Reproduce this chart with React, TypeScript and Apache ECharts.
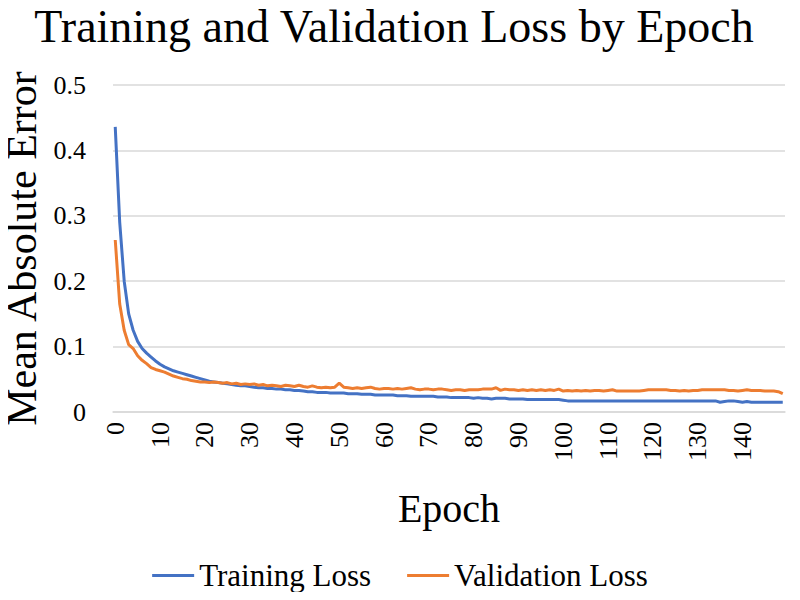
import React, { useEffect, useRef } from "react";
import * as echarts from "echarts";

const titleText = "Training and Validation Loss by Epoch";
const xAxisName = "Epoch";
const yAxisName = "Mean Absolute Error";
const seriesNames = ["Training Loss", "Validation Loss"];

const epochs: string[] = Array.from({ length: 150 }, (_, i) => String(i));

const trainingLoss = [
  0.436, 0.29, 0.2, 0.15, 0.125, 0.108, 0.097, 0.09, 0.084, 0.078,
  0.073, 0.069, 0.066, 0.063, 0.061, 0.059, 0.057, 0.055, 0.053, 0.051,
  0.049, 0.047, 0.046, 0.045, 0.044, 0.043, 0.042, 0.041, 0.04, 0.04,
  0.039, 0.038, 0.037, 0.037, 0.036, 0.036, 0.035, 0.035, 0.034, 0.034,
  0.033, 0.033, 0.032, 0.031, 0.031, 0.03, 0.03, 0.03, 0.029, 0.029,
  0.029, 0.029, 0.028, 0.028, 0.028, 0.027, 0.027, 0.027, 0.026, 0.026,
  0.026, 0.026, 0.026, 0.025, 0.025, 0.025, 0.024, 0.024, 0.024, 0.024,
  0.024, 0.024, 0.023, 0.023, 0.023, 0.022, 0.022, 0.022, 0.022, 0.022,
  0.021, 0.022, 0.021, 0.021, 0.02, 0.021, 0.021, 0.021, 0.02, 0.02,
  0.02, 0.02, 0.019, 0.019, 0.019, 0.019, 0.019, 0.019, 0.019, 0.019,
  0.018, 0.017, 0.017, 0.017, 0.017, 0.017, 0.017, 0.017, 0.017, 0.017,
  0.017, 0.017, 0.017, 0.017, 0.017, 0.017, 0.017, 0.017, 0.017, 0.017,
  0.017, 0.017, 0.017, 0.017, 0.017, 0.017, 0.017, 0.017, 0.017, 0.017,
  0.017, 0.017, 0.017, 0.017, 0.017, 0.015, 0.016, 0.017, 0.017, 0.016,
  0.015, 0.016, 0.015, 0.015, 0.015, 0.015, 0.015, 0.015, 0.015, 0.015,
];

const validationLoss = [
  0.263, 0.165, 0.125, 0.103, 0.097, 0.086, 0.079, 0.074, 0.068, 0.065,
  0.063, 0.061, 0.058, 0.055, 0.053, 0.051, 0.05, 0.048, 0.047, 0.046,
  0.046, 0.045, 0.046, 0.045, 0.044, 0.045, 0.043, 0.044, 0.042, 0.043,
  0.042, 0.043, 0.041, 0.042, 0.04, 0.041, 0.04, 0.039, 0.041, 0.04,
  0.039, 0.041, 0.039, 0.038, 0.04, 0.038, 0.037, 0.038, 0.037, 0.038,
  0.044, 0.038, 0.037, 0.036, 0.037, 0.036, 0.037, 0.038, 0.036, 0.035,
  0.036, 0.036, 0.035, 0.036, 0.035, 0.036, 0.037, 0.035, 0.034, 0.035,
  0.035, 0.034, 0.035, 0.035, 0.034, 0.033, 0.034, 0.034, 0.033, 0.034,
  0.034, 0.034, 0.035, 0.035, 0.035, 0.037, 0.033, 0.035, 0.034, 0.034,
  0.033, 0.034, 0.033, 0.034, 0.033, 0.034, 0.033, 0.034, 0.033, 0.035,
  0.032, 0.033, 0.032, 0.033, 0.032, 0.033, 0.032, 0.033, 0.033, 0.032,
  0.033, 0.034, 0.032, 0.032, 0.032, 0.032, 0.032, 0.032, 0.033, 0.034,
  0.034, 0.034, 0.034, 0.034, 0.033, 0.033, 0.032, 0.033, 0.032, 0.033,
  0.033, 0.034, 0.034, 0.034, 0.034, 0.034, 0.034, 0.033, 0.033, 0.032,
  0.033, 0.034, 0.033, 0.033, 0.033, 0.032, 0.032, 0.032, 0.031, 0.028,
];

const yTicks = { min: 0, max: 0.5, interval: 0.1 };
const colors = ["#4472C4", "#ED7D31"];

const FONT = '"Liberation Serif", "Times New Roman", serif';

export default function App() {
  const ref = useRef<HTMLDivElement>(null);
  useEffect(() => {
    if (!ref.current) return;
    const chart = echarts.init(ref.current, null, { renderer: "svg" });
    chart.setOption({
      animation: false,
      backgroundColor: "#ffffff",
      color: colors,
      textStyle: { fontFamily: FONT, color: "#000" },
      title: {
        text: titleText,
        left: 394,
        textAlign: "center",
        top: 3,
        padding: 0,
        textStyle: { fontFamily: FONT, fontSize: 46, fontWeight: "normal", color: "#000" },
      },
      legend: {
        bottom: 4,
        left: "center",
        itemWidth: 42,
        itemHeight: 3,
        itemGap: 36,
        icon: "rect",
        textStyle: { fontFamily: FONT, fontSize: 31, color: "#000" },
        data: seriesNames,
      },
      grid: {
        left: 113,
        right: 15,
        top: 85,
        bottom: 188,
        containLabel: false,
        outerBoundsMode: "none",
      },
      xAxis: {
        type: "category",
        data: epochs,
        boundaryGap: true,
        name: xAxisName,
        nameLocation: "middle",
        nameGap: 76,
        nameTextStyle: { fontFamily: FONT, fontSize: 40, color: "#000" },
        axisLine: { show: true, lineStyle: { color: "#d9d9d9", width: 1.5 } },
        axisTick: { show: false },
        axisLabel: {
          interval: 9,
          rotate: 90,
          margin: 10,
          fontFamily: FONT,
          fontSize: 26,
          color: "#000",
        },
        splitLine: { show: false },
      },
      yAxis: {
        type: "value",
        min: yTicks.min,
        max: yTicks.max,
        interval: yTicks.interval,
        name: yAxisName,
        nameLocation: "middle",
        nameGap: 66,
        nameTextStyle: { fontFamily: FONT, fontSize: 42, color: "#000" },
        axisLine: { show: false },
        axisTick: { show: false },
        axisLabel: { margin: 27, fontFamily: FONT, fontSize: 26, color: "#000" },
        splitLine: { show: true, lineStyle: { color: "#d9d9d9", width: 1.5 } },
      },
      series: [
        {
          name: seriesNames[0],
          type: "line",
          data: trainingLoss,
          symbol: "none",
          lineStyle: { width: 3, color: colors[0] },
          itemStyle: { color: colors[0] },
        },
        {
          name: seriesNames[1],
          type: "line",
          data: validationLoss,
          symbol: "none",
          lineStyle: { width: 3, color: colors[1] },
          itemStyle: { color: colors[1] },
        },
      ],
    });
    return () => chart.dispose();
  }, []);
  return <div ref={ref} style={{ width: 800, height: 600, margin: -8 }} />;
}
